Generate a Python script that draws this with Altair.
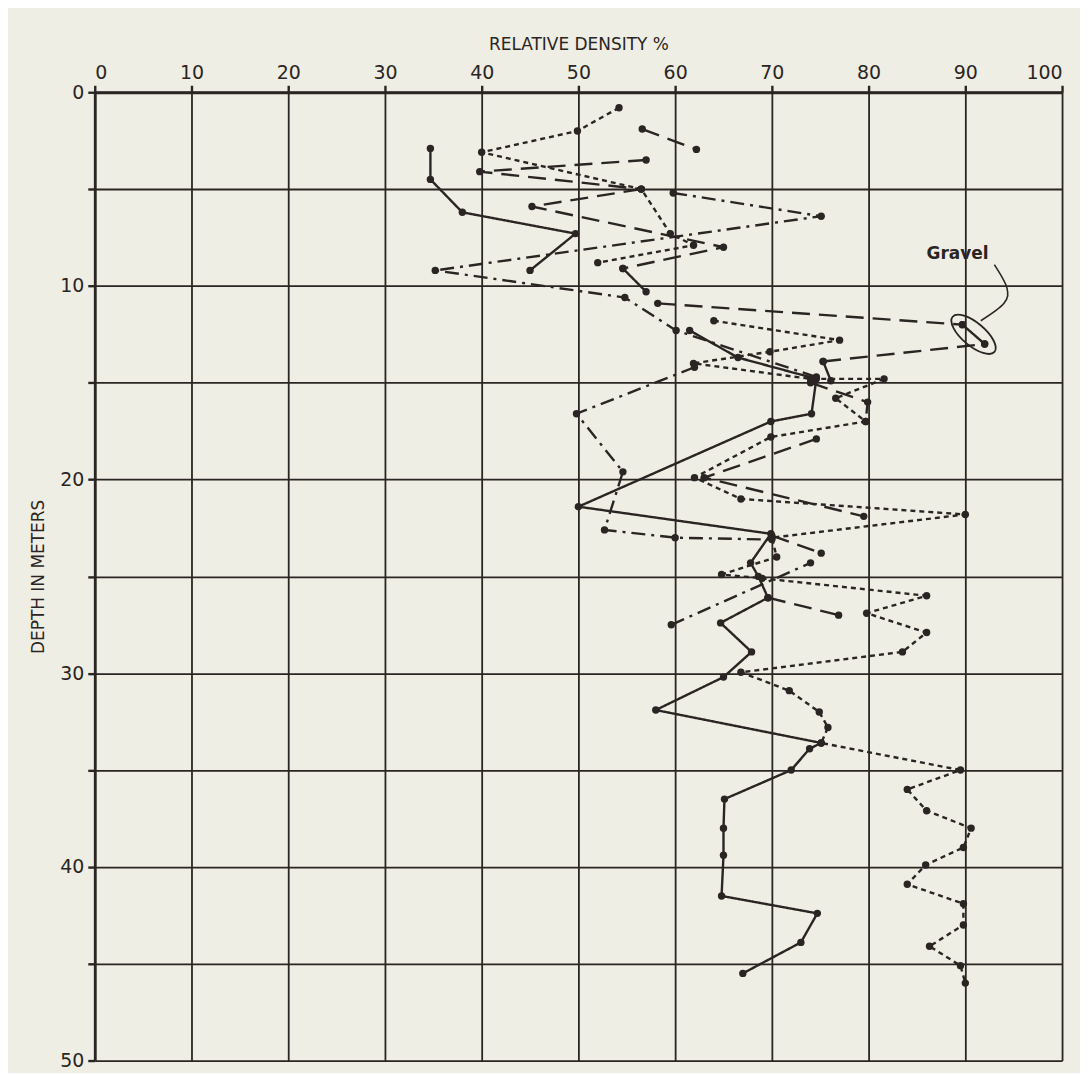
import altair as alt
import pandas as pd

# ---- data (relative density %, depth m) ----
solid_a = [(34.7, 2.9), (34.7, 4.5), (38.0, 6.2), (49.7, 7.3), (45.0, 9.2)]
solid_b = [(54.6, 9.1), (57.0, 10.3)]
solid_c = [(61.5, 12.3), (66.5, 13.7), (74.6, 14.8), (74.1, 16.6), (69.9, 17.0),
           (50.0, 21.4), (69.9, 22.8), (67.8, 24.3), (68.6, 25.0), (69.6, 26.1),
           (64.7, 27.4), (67.9, 28.9), (65.0, 30.2), (58.0, 31.9), (75.1, 33.6),
           (73.9, 33.9), (72.0, 35.0), (65.1, 36.5), (65.0, 38.0), (65.0, 39.4),
           (64.8, 41.5), (74.7, 42.4), (73.0, 43.9), (67.0, 45.5)]
solid_d = [(89.7, 12.0), (92.0, 13.0)]
solid_e = [(75.3, 13.9), (76.1, 14.9)]

dotted_a = [(54.2, 0.8), (49.9, 2.0), (40.0, 3.1), (56.5, 5.0), (59.5, 7.3),
            (61.9, 7.9), (52.0, 8.8)]
dotted_b = [(64.0, 11.8), (77.0, 12.8), (69.8, 13.4), (61.9, 14.0), (74.0, 14.8),
            (81.6, 14.8), (76.6, 15.8), (79.7, 17.0), (69.9, 17.8), (62.0, 19.9),
            (66.8, 21.0), (90.0, 21.8), (70.0, 23.0), (70.5, 24.0), (64.8, 24.9),
            (69.0, 25.1), (86.0, 26.0), (79.8, 26.9), (86.0, 27.9), (83.5, 28.9),
            (66.8, 29.95), (71.8, 30.9), (74.9, 32.0), (75.8, 32.8), (75.1, 33.6),
            (89.5, 35.0), (84.0, 36.0), (86.0, 37.1), (90.6, 38.0), (89.8, 39.0),
            (85.9, 39.9), (84.0, 40.9), (89.8, 41.9), (89.8, 43.0), (86.3, 44.1),
            (89.5, 45.1), (90.0, 46.0)]

long_a = [(56.6, 1.9), (62.2, 2.95)]
long_b = [(57.0, 3.5), (39.8, 4.1), (56.5, 5.0)]
long_c = [(56.5, 5.0), (45.2, 5.9), (65.0, 8.0), (54.6, 9.1)]
long_d = [(58.2, 10.9), (89.7, 12.0)]
long_e = [(75.3, 13.9), (92.0, 13.0)]
long_f = [(74.0, 15.0), (79.9, 16.0), (79.7, 17.0)]
long_g = [(74.6, 17.9), (63.0, 19.9), (79.5, 21.9)]
long_h = [(70.0, 22.9), (75.1, 23.8)]
long_i = [(69.6, 26.1), (76.9, 27.0)]

dashdot_a = [(59.8, 5.2), (75.1, 6.4), (35.2, 9.2), (54.8, 10.6), (60.1, 12.3),
             (74.6, 14.7)]
dashdot_b = [(62.0, 14.2), (49.8, 16.6), (54.6, 19.6), (52.7, 22.6), (60.0, 23.0),
             (70.0, 23.1)]
dashdot_c = [(59.6, 27.5), (74.0, 24.3)]

x_ticks = [0, 10, 20, 30, 40, 50, 60, 70, 80, 90, 100]
y_ticks = [0, 5, 10, 15, 20, 25, 30, 35, 40, 45, 50]

gravel_label = [(89.2, 8.35, "Gravel")]
gravel_ring = [(90.85, 12.5)]
gravel_leader = [(93.0, 8.9), (94.3, 10.1), (94.0, 10.9), (91.6, 11.8)]

# ---- build tables ----
groups = {
    "solid": [solid_a, solid_b, solid_c, solid_d, solid_e],
    "dotted": [dotted_a, dotted_b],
    "long": [long_a, long_b, long_c, long_d, long_e, long_f, long_g, long_h, long_i],
    "dashdot": [dashdot_a, dashdot_b, dashdot_c],
}
rows = []
for style, lst in groups.items():
    for gi, pts in enumerate(lst):
        for i, (v, d) in enumerate(pts):
            rows.append(dict(style=style, group=f"{style}{gi}", idx=i, density=v, depth=d))
df = pd.DataFrame(rows)

INK = "#2a2522"
BG = "#efeee5"
FONT = "DejaVu Sans"

x_enc = alt.X("density:Q",
              scale=alt.Scale(domain=[0, 100], nice=False, zero=False),
              axis=alt.Axis(orient="top", values=x_ticks, title="RELATIVE DENSITY %",
                            titlePadding=10, labelPadding=3, tickSize=7))
y_enc = alt.Y("depth:Q",
              scale=alt.Scale(domain=[0, 50], nice=False, reverse=True, zero=False),
              axis=alt.Axis(values=y_ticks, title="DEPTH IN METERS",
                            labelExpr="datum.value % 10 == 0 ? datum.label : ''",
                            titlePadding=12, labelPadding=4, tickSize=7))

dashes = {"solid": [1, 0], "dotted": [5, 4], "long": [18, 9], "dashdot": [14, 6, 3, 6]}

layers = []
for style, dash in dashes.items():
    sub = df[df["style"] == style]
    line = alt.Chart(sub).mark_line(color=INK, strokeWidth=2.4, strokeDash=dash).encode(
        x=x_enc, y=y_enc, detail="group:N", order="idx:Q")
    pts = alt.Chart(sub).mark_circle(color=INK, size=55, opacity=1).encode(x=x_enc, y=y_enc)
    layers += [line, pts]

ring_df = pd.DataFrame([dict(density=v, depth=d) for v, d in gravel_ring])
ring = alt.Chart(ring_df).mark_point(
    shape="M -1 0 A 1 0.42 0 1 1 1 0 A 1 0.42 0 1 1 -1 0 Z",
    size=3000, angle=40, filled=False, color=INK, strokeWidth=1.8, opacity=1
).encode(x=x_enc, y=y_enc)

lead_df = pd.DataFrame([dict(density=v, depth=d, idx=i) for i, (v, d) in enumerate(gravel_leader)])
leader = alt.Chart(lead_df).mark_line(color=INK, strokeWidth=1.6, interpolate="cardinal").encode(
    x=x_enc, y=y_enc, order="idx:Q")

lab_df = pd.DataFrame([dict(density=v, depth=d, text=t) for v, d, t in gravel_label])
label = alt.Chart(lab_df).mark_text(font=FONT, fontSize=17, fontWeight="bold", color=INK).encode(
    x=x_enc, y=y_enc, text="text:N")

chart = alt.layer(*layers, ring, leader, label).properties(
    width=970, height=971,
    background=BG,
    padding={"left": 87, "top": 83, "right": 18, "bottom": 11},
    autosize=alt.AutoSizeParams(type="none"),
).configure_view(stroke=None).configure_axis(
    grid=True, gridColor=INK, gridWidth=1.8, gridOpacity=1,
    domainColor=INK, domainWidth=2.8, tickColor=INK, tickWidth=2.4,
    labelFont=FONT, labelFontSize=19, labelColor=INK,
    titleFont=FONT, titleFontSize=17, titleFontWeight="normal", titleColor=INK,
)

chart.save("out.html", embed_options={"renderer": "svg", "actions": False})
